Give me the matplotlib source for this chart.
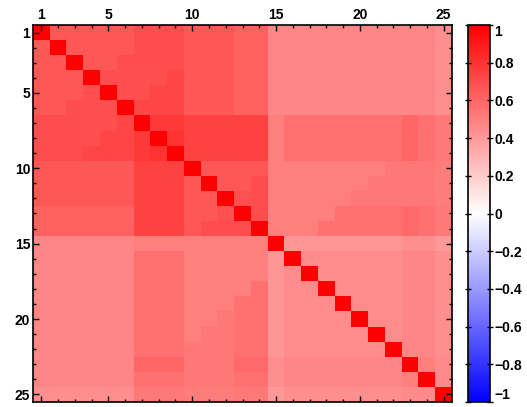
import numpy as np
import matplotlib
matplotlib.use("Agg")
from matplotlib import pyplot as plt
from matplotlib.colors import LinearSegmentedColormap

plt.rcParams['font.family'] = ['Liberation Sans', 'DejaVu Sans']
plt.rcParams['font.weight'] = 'bold'

# correlation matrix (rows top to bottom)
corr = [
    [1.00, .66, .66, .66, .66, .66, .70, .70, .70, .66, .66, .66, .62, .62, .47, .47, .47, .47, .47, .47, .47, .47, .47, .47, .44],
    [.66, 1.00, .66, .66, .66, .66, .70, .70, .70, .66, .66, .66, .62, .62, .47, .47, .47, .47, .47, .47, .47, .47, .47, .47, .44],
    [.66, .66, 1.00, .66, .66, .70, .70, .70, .70, .66, .66, .66, .62, .62, .47, .47, .47, .47, .47, .47, .47, .47, .47, .47, .44],
    [.66, .66, .66, 1.00, .69, .69, .69, .69, .72, .66, .66, .66, .62, .62, .47, .47, .47, .47, .47, .47, .47, .47, .47, .47, .44],
    [.66, .66, .66, .69, 1.00, .69, .69, .72, .72, .66, .66, .66, .62, .62, .47, .47, .47, .47, .47, .47, .47, .47, .47, .47, .44],
    [.66, .66, .70, .69, .69, 1.00, .72, .72, .72, .66, .66, .66, .62, .62, .47, .47, .47, .47, .47, .47, .47, .47, .47, .47, .44],
    [.70, .70, .70, .69, .69, .72, 1.00, .78, .78, .74, .74, .74, .74, .74, .50, .56, .56, .56, .56, .56, .56, .56, .60, .56, .52],
    [.70, .70, .70, .69, .72, .72, .78, 1.00, .80, .74, .74, .74, .74, .74, .50, .56, .56, .56, .56, .56, .56, .56, .60, .56, .52],
    [.70, .70, .70, .72, .72, .72, .78, .80, 1.00, .74, .74, .74, .74, .74, .50, .56, .56, .56, .56, .56, .56, .56, .60, .56, .52],
    [.66, .66, .66, .66, .66, .66, .74, .74, .74, 1.00, .66, .66, .66, .66, .50, .50, .50, .50, .50, .50, .50, .53, .53, .53, .51],
    [.66, .66, .66, .66, .66, .66, .74, .74, .74, .66, 1.00, .66, .66, .70, .50, .50, .50, .50, .50, .50, .53, .53, .53, .53, .51],
    [.66, .66, .66, .66, .66, .66, .74, .74, .74, .66, .66, 1.00, .68, .70, .50, .50, .50, .50, .50, .53, .53, .53, .53, .53, .51],
    [.62, .62, .62, .62, .62, .62, .74, .74, .74, .66, .66, .68, 1.00, .70, .50, .50, .50, .50, .55, .55, .55, .55, .58, .55, .52],
    [.62, .62, .62, .62, .62, .62, .74, .74, .74, .66, .70, .70, .70, 1.00, .50, .50, .50, .55, .55, .55, .55, .55, .58, .55, .52],
    [.47, .47, .47, .47, .47, .47, .50, .50, .50, .50, .50, .50, .50, .50, 1.00, .41, .41, .41, .41, .41, .41, .41, .44, .44, .40],
    [.47, .47, .47, .47, .47, .47, .56, .56, .56, .50, .50, .50, .50, .50, .41, 1.00, .45, .45, .45, .45, .45, .45, .47, .47, .44],
    [.47, .47, .47, .47, .47, .47, .56, .56, .56, .50, .50, .50, .50, .50, .41, .45, 1.00, .45, .45, .45, .45, .45, .47, .47, .44],
    [.47, .47, .47, .47, .47, .47, .56, .56, .56, .50, .50, .50, .50, .55, .41, .45, .45, 1.00, .45, .45, .45, .45, .47, .47, .44],
    [.47, .47, .47, .47, .47, .47, .56, .56, .56, .50, .50, .50, .55, .55, .41, .45, .45, .45, 1.00, .45, .45, .45, .47, .47, .44],
    [.47, .47, .47, .47, .47, .47, .56, .56, .56, .50, .50, .53, .55, .55, .41, .45, .45, .45, .45, 1.00, .45, .45, .47, .47, .44],
    [.47, .47, .47, .47, .47, .47, .56, .56, .56, .50, .53, .53, .55, .55, .41, .45, .45, .45, .45, .45, 1.00, .45, .47, .47, .44],
    [.47, .47, .47, .47, .47, .47, .56, .56, .56, .53, .53, .53, .55, .55, .41, .45, .45, .45, .45, .45, .45, 1.00, .47, .47, .44],
    [.47, .47, .47, .47, .47, .47, .60, .60, .60, .53, .53, .53, .58, .58, .44, .47, .47, .47, .47, .47, .47, .47, 1.00, .50, .46],
    [.47, .47, .47, .47, .47, .47, .56, .56, .56, .53, .53, .53, .55, .55, .44, .47, .47, .47, .47, .47, .47, .47, .50, 1.00, .46],
    [.44, .44, .44, .44, .44, .44, .52, .52, .52, .51, .51, .51, .52, .52, .40, .44, .44, .44, .44, .44, .44, .44, .46, .46, 1.00],
]
n = len(corr)
major_ticks = [1, 5, 10, 15, 20, 25]
cbar_ticks = [1, 0.8, 0.6, 0.4, 0.2, 0, -0.2, -0.4, -0.6, -0.8, -1]
cbar_labels = ["1", "0.8", "0.6", "0.4", "0.2", "0", "\u22120.2", "\u22120.4", "\u22120.6", "\u22120.8", "\u22121"]

W, H = 527, 407
fig = plt.figure(figsize=(W / 100, H / 100), dpi=100)
ax = fig.add_axes([33 / W, 5 / H, 419 / W, 377 / H])

cmap = LinearSegmentedColormap.from_list("bwr_m", [(0, 0, 1), (1, 1, 1), (1, 0, 0)])
im = ax.imshow(np.array(corr), cmap=cmap, vmin=-1, vmax=1, aspect="auto",
               interpolation="nearest", extent=[0.5, n + 0.5, n + 0.5, 0.5])

ax.set_xticks(major_ticks)
ax.set_yticks(major_ticks)
ax.set_xticks(range(1, n + 1), minor=True)
ax.set_yticks(range(1, n + 1), minor=True)
ax.tick_params(which="both", direction="in", top=True, bottom=True, left=True, right=True,
               labeltop=True, labelbottom=False, labelleft=True, labelright=False,
               width=1, labelsize=10, pad=2)
ax.tick_params(which="major", length=4)
ax.tick_params(which="minor", length=2)
for lab in ax.get_xticklabels() + ax.get_yticklabels():
    lab.set_fontweight("bold")
for s in ax.spines.values():
    s.set_linewidth(1.2)

cax = fig.add_axes([468 / W, 5 / H, 22 / W, 377 / H])
cb = fig.colorbar(im, cax=cax, ticks=cbar_ticks)
cb.ax.set_yticklabels(cbar_labels, fontweight="bold")
cb.ax.tick_params(direction="inout", length=4, width=1, labelsize=10, pad=1, left=True)
cb.outline.set_linewidth(1.2)
# keep the end labels inside the bar, as in the original
labs = cb.ax.get_yticklabels()
labs[0].set_va("top")
labs[-1].set_va("bottom")

fig.savefig("out.png", dpi=100)
